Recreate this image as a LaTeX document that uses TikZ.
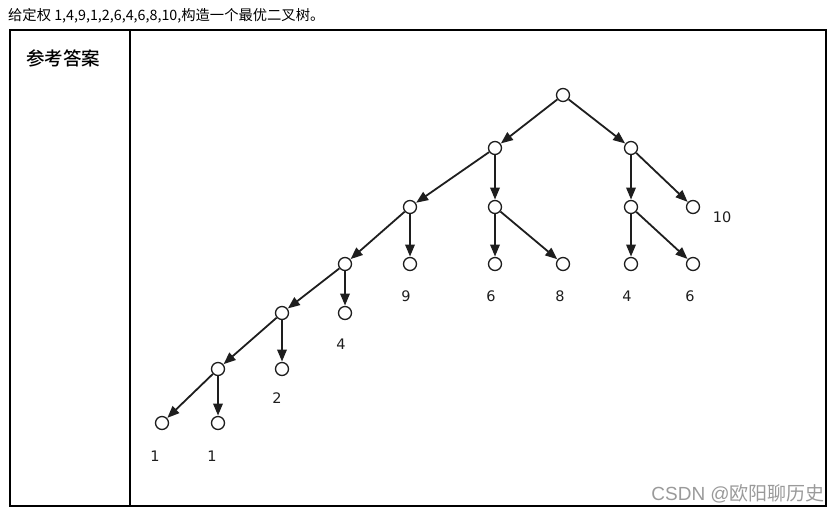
\documentclass[tikz,border=0pt]{standalone}
\usepackage{fontspec}
\newfontfamily\cjk{Noto Sans CJK SC}
\newfontfamily\cjkb{Noto Sans CJK SC Medium}
\newfontfamily\lab{DejaVu Sans}
\newfontfamily\wm{Liberation Sans}
\usetikzlibrary{arrows.meta}
\definecolor{ink}{HTML}{1E1E1E}
\definecolor{wmgray}{HTML}{9A9A9A}
\tikzset{
  vtx/.style={circle,draw=ink,line width=1.3pt,fill=white,minimum size=13pt,inner sep=0pt},
  edge/.style={draw=ink,line width=1.8pt,-{Triangle[length=12pt,width=9.5pt]},shorten >=0.3pt},
  lbl/.style={font=\lab\fontsize{14.5}{16}\selectfont,text=ink,inner sep=0pt},
  frame/.style={draw=black,line width=1.1pt}
}
\begin{document}
\begin{tikzpicture}[x=1pt,y=-1pt]
\useasboundingbox (0,0) rectangle (840,515);
% header text
\node[anchor=west,inner sep=0pt,font=\cjk\fontsize{14.3}{16}\selectfont] (title) at (8,16) {给定权 1,4,9,1,2,6,4,6,8,10,构造一个最优二叉树。};
% table frame
\draw[frame] (10,30) rectangle (826,506);
\draw[frame] (130,30) -- (130,506);
\node[anchor=west,inner sep=0pt,font=\cjkb\fontsize{18.5}{20}\selectfont] (ans) at (26,58) {参考答案};
% vertices
\node[vtx] (r) at (563,95) {};
\node[vtx] (a) at (495,148) {};
\node[vtx] (b) at (631,148) {};
\node[vtx] (c) at (410,207) {};
\node[vtx] (d) at (495,207) {};
\node[vtx] (e) at (631,207) {};
\node[vtx] (l10) at (693,207) {};
\node[vtx] (f) at (345,264) {};
\node[vtx] (l9) at (410,264) {};
\node[vtx] (l6a) at (495,264) {};
\node[vtx] (l8) at (563,264) {};
\node[vtx] (l4a) at (631,264) {};
\node[vtx] (l6b) at (693,264) {};
\node[vtx] (g) at (282,313) {};
\node[vtx] (l4b) at (345,313) {};
\node[vtx] (h) at (218,369) {};
\node[vtx] (l2) at (282,369) {};
\node[vtx] (l1a) at (162,423) {};
\node[vtx] (l1b) at (218,423) {};
% edges
\foreach \u/\v in {r/a,r/b,a/c,a/d,b/e,b/l10,c/f,c/l9,d/l6a,d/l8,e/l4a,e/l6b,f/g,f/l4b,g/h,g/l2,h/l1a,h/l1b}
  \draw[edge] (\u) -- (\v);
% labels
\node[lbl] (t10) at (722,217) {10};
\node[lbl] (t9) at (406,296) {9};
\node[lbl] (t6a) at (491,296) {6};
\node[lbl] (t8) at (560,296) {8};
\node[lbl] (t4a) at (627,296) {4};
\node[lbl] (t6b) at (690,296) {6};
\node[lbl] (t4b) at (341,344) {4};
\node[lbl] (t2) at (277,398) {2};
\node[lbl] (t1a) at (155,456) {1};
\node[lbl] (t1b) at (212,456) {1};
% watermark
\node[anchor=east,inner sep=0pt,text=wmgray,font=\fontsize{19}{21}\selectfont] (wm) at (825,494) {{\wm CSDN @}{\cjk 欧阳聊历史}};
\end{tikzpicture}
\end{document}
